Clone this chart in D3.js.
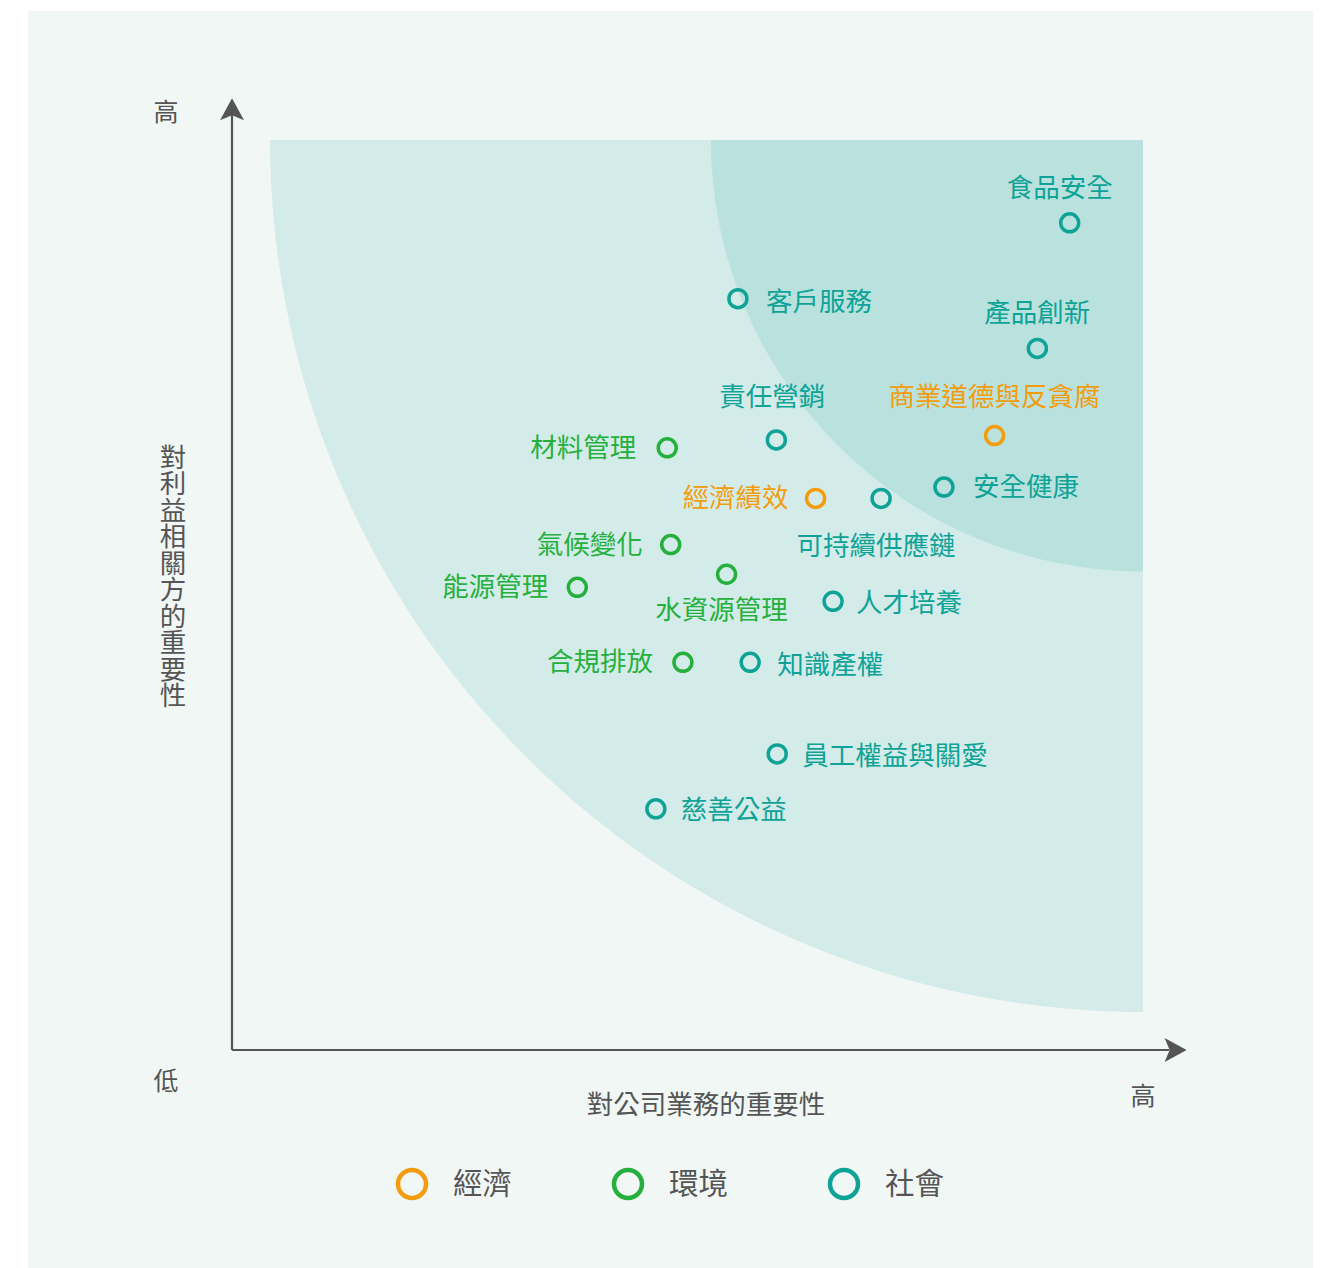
<!DOCTYPE html>
<html>
<head>
<meta charset="utf-8">
<script src="https://cdn.jsdelivr.net/npm/d3@7"></script>
<style>
  body { margin: 0; background: #fff; }
  text { font-family: "Noto Sans CJK TC", "Noto Sans", sans-serif; }
</style>
</head>
<body>
<svg id="chart" width="1323" height="1268"></svg>
<script>
// topics, x = importance to business, y = importance to stakeholders (0-10)
var topics = ["食品安全", "客戶服務", "產品創新", "責任營銷", "商業道德與反貪腐", "材料管理",
  "經濟績效", "可持續供應鏈", "安全健康", "氣候變化", "水資源管理", "能源管理",
  "人才培養", "合規排放", "知識產權", "員工權益與關愛", "慈善公益"]
var xValues = [9.16, 5.36, 8.79, 5.80, 8.30, 4.55, 6.25, 7.00, 7.72, 4.59, 5.23, 3.52, 6.45, 4.73, 5.50, 5.81, 4.42]
var yValues = [9.05, 8.18, 7.61, 6.56, 6.61, 6.47, 5.89, 5.89, 6.02, 5.36, 5.02, 4.87, 4.71, 4.01, 4.01, 2.96, 2.33]
var groups = ["社會", "社會", "社會", "社會", "經濟", "環境", "經濟", "社會", "社會", "環境", "環境", "環境",
  "社會", "環境", "社會", "社會", "社會"]
var labelSide = ["top", "right", "top", "top", "top", "left", "left", "bottom", "right", "left", "bottom", "left",
  "right", "left", "right", "right", "right"]
// small label nudges [dx, dy] in px
var labelNudge = [[-10, 0], [0, 3], [0, 0], [-4, -8], [0, -4], [-1, 0], [3, 0], [-5, 12], [1, 0], [2, 0], [-5, 0], [1, 0],
  [-5, 2], [0, 0], [-1, 3], [-3, 2], [-3, 1]]
var categories = ["經濟", "環境", "社會"]
var zones = [10, 4.95]  // radii of the two shaded quarter-discs

var colors = d3.scaleOrdinal()
  .domain(categories)
  .range(["#f39c0d", "#25b03d", "#0ea396"])

var svg = d3.select("#chart")

var x = d3.scaleLinear().domain([0, 10]).range([270, 1143])
var y = d3.scaleLinear().domain([0, 10]).range([1012, 140])

// panel background
svg.append("rect")
  .attr("x", 28).attr("y", 11)
  .attr("width", 1285).attr("height", 1257)
  .attr("fill", "#f1f7f5")

// shaded zones: quarter discs centred on top-right corner
var zoneFill = ["#d4ece9", "#b9e2de"]
svg.selectAll("path.zone")
  .data(zones)
  .enter()
  .append("path")
  .attr("class", "zone")
  .attr("fill", function (d, i) { return zoneFill[i] })
  .attr("d", function (r) {
    var cx = x(10), cy = y(10)
    var rx = x(10) - x(10 - r), ry = y(10 - r) - y(10)
    return "M" + cx + "," + cy +
      "L" + (cx - rx) + "," + cy +
      "A" + rx + "," + ry + " 0 0 0 " + cx + "," + (cy + ry) + "Z"
  })

// axes
var axisColor = "#555"
var ox = x(-0.435), oy = y(-0.436)
svg.append("line")
  .attr("x1", ox).attr("y1", oy).attr("x2", ox).attr("y2", y(10.3))
  .attr("stroke", axisColor).attr("stroke-width", 2.2)
svg.append("line")
  .attr("x1", ox).attr("y1", oy).attr("x2", x(10.3)).attr("y2", oy)
  .attr("stroke", axisColor).attr("stroke-width", 2.2)

var tipY = y(10.48), tipX = x(10.5)
svg.append("path")
  .attr("d", "M" + ox + "," + tipY + "L" + (ox + 12) + "," + (tipY + 22) +
    "L" + ox + "," + (tipY + 17) + "L" + (ox - 12) + "," + (tipY + 22) + "Z")
  .attr("fill", axisColor)
svg.append("path")
  .attr("d", "M" + tipX + "," + oy + "L" + (tipX - 22) + "," + (oy - 12) +
    "L" + (tipX - 17) + "," + oy + "L" + (tipX - 22) + "," + (oy + 12) + "Z")
  .attr("fill", axisColor)

// axis end labels
var gray = "#555"
svg.append("text").attr("x", 166).attr("y", 121).attr("text-anchor", "middle")
  .attr("font-size", 25).attr("fill", gray).text("高")
svg.append("text").attr("x", 166).attr("y", 1090).attr("text-anchor", "middle")
  .attr("font-size", 25).attr("fill", gray).text("低")
svg.append("text").attr("x", x(10)).attr("y", 1105).attr("text-anchor", "middle")
  .attr("font-size", 25).attr("fill", gray).text("高")

svg.append("text").attr("x", 706).attr("y", 1114).attr("text-anchor", "middle")
  .attr("font-size", 26.5).attr("fill", gray).text("對公司業務的重要性")

svg.append("text")
  .attr("x", 173).attr("y", 576)
  .attr("text-anchor", "middle")
  .style("writing-mode", "vertical-rl")
  .attr("font-size", 26.5)
  .attr("fill", gray)
  .text("對利益相關方的重要性")

// points
var pts = topics.map(function (t, i) {
  return {
    name: t, x: xValues[i], y: yValues[i], group: groups[i],
    side: labelSide[i], nudge: labelNudge[i]
  }
})

var g = svg.append("g")
g.selectAll("circle")
  .data(pts)
  .enter()
  .append("circle")
  .attr("cx", function (d) { return x(d.x) })
  .attr("cy", function (d) { return y(d.y) })
  .attr("r", 9)
  .attr("fill", "none")
  .attr("stroke", function (d) { return colors(d.group) })
  .attr("stroke-width", 3.5)

g.selectAll("text")
  .data(pts)
  .enter()
  .append("text")
  .attr("font-size", 26.5)
  .attr("fill", function (d) { return colors(d.group) })
  .attr("text-anchor", function (d) {
    return d.side == "left" ? "end" : d.side == "right" ? "start" : "middle"
  })
  .attr("x", function (d) {
    var px = x(d.x) + d.nudge[0]
    if (d.side == "left") return px - 30
    if (d.side == "right") return px + 28
    return px
  })
  .attr("y", function (d) {
    var py = y(d.y) + d.nudge[1]
    if (d.side == "top") return py - 26
    if (d.side == "bottom") return py + 45
    return py + 9
  })
  .text(function (d) { return d.name })

// legend
var legend = svg.selectAll("g.legend")
  .data(categories)
  .enter()
  .append("g")
  .attr("class", "legend")
  .attr("transform", function (d, i) { return "translate(" + (412 + i * 216) + ",1184)" })

legend.append("circle")
  .attr("r", 14)
  .attr("fill", "none")
  .attr("stroke", function (d) { return colors(d) })
  .attr("stroke-width", 4.5)

legend.append("text")
  .attr("x", 41)
  .attr("y", 10)
  .attr("font-size", 29.5)
  .attr("fill", gray)
  .text(function (d) { return d })
</script>
</body>
</html>
